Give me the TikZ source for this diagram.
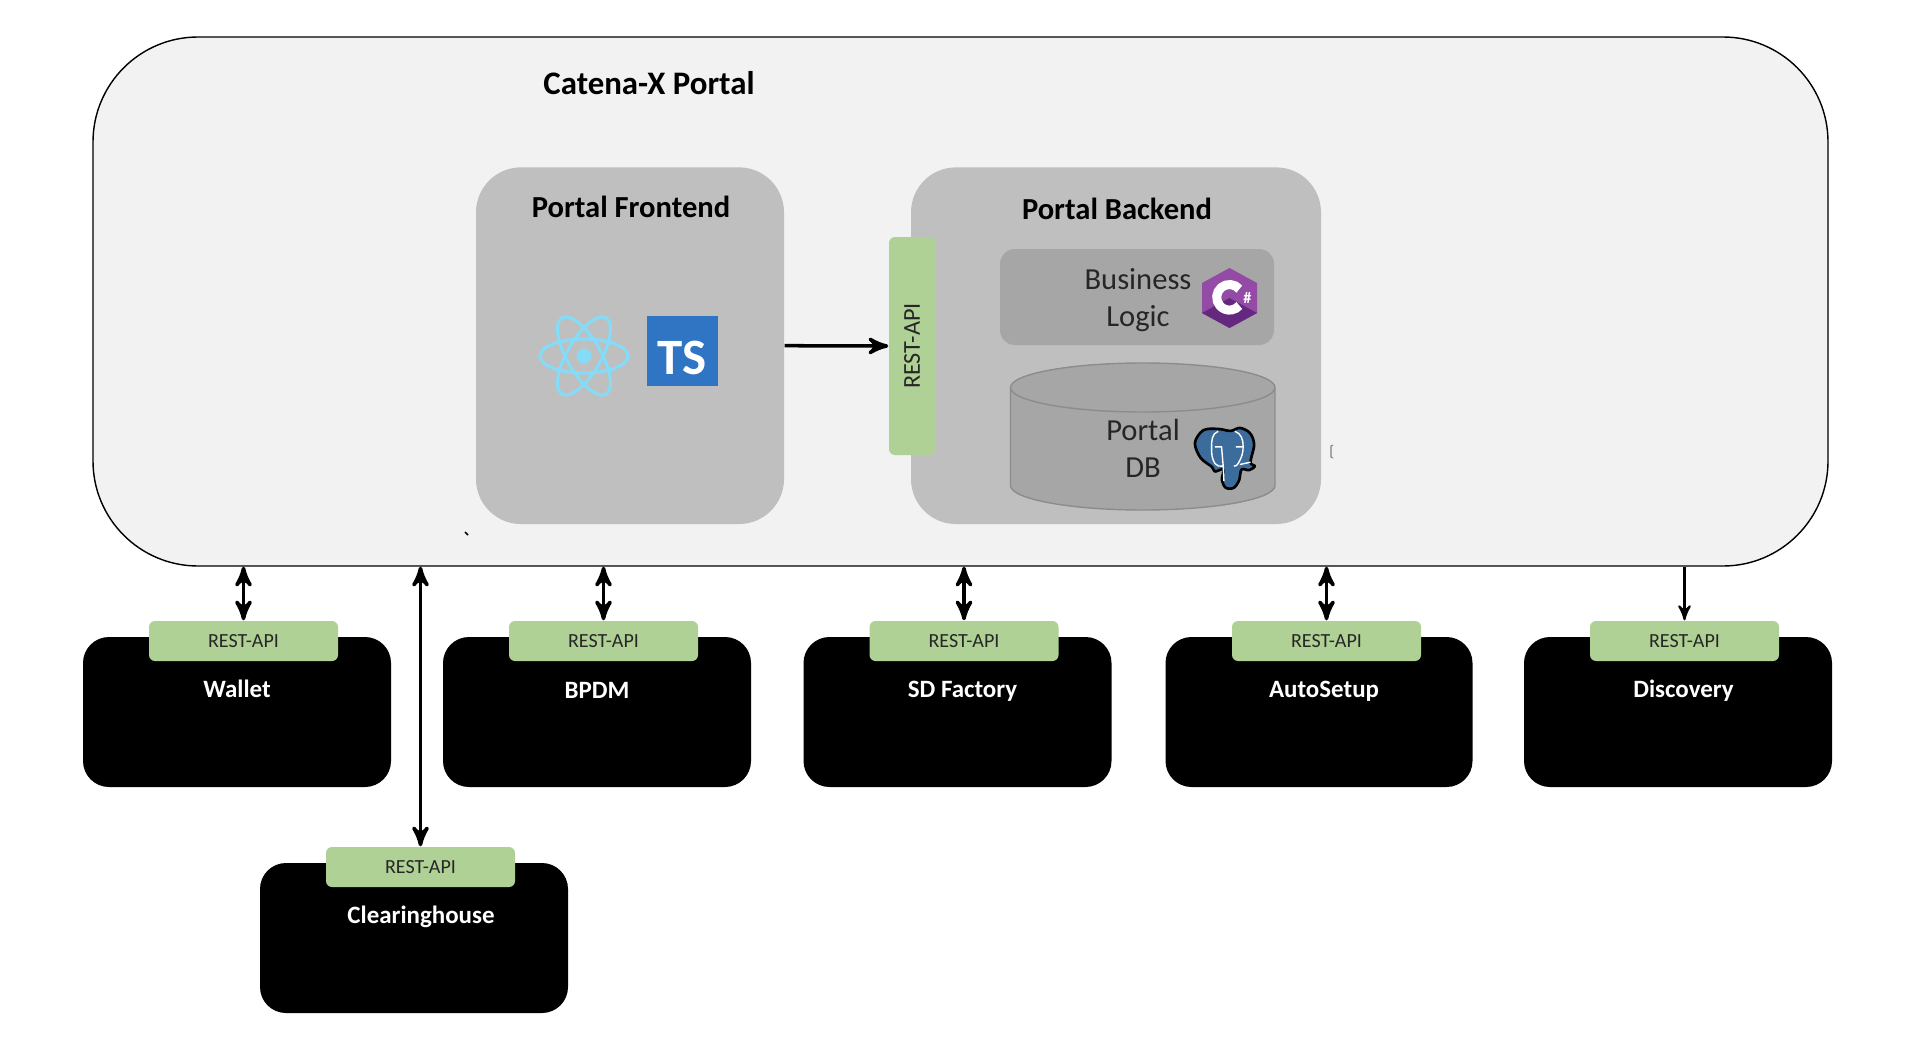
\documentclass[tikz,border=0pt]{standalone}
\usepackage{fontspec}
\setmainfont{Carlito}
\usetikzlibrary{positioning}
\usetikzlibrary{arrows}
\tikzset{>=stealth'}
\tikzset{conn/.style={line width=1pt}}
\tikzset{big/.style={font=\fontsize{8.7}{11}\selectfont\bfseries}}
\tikzset{mid/.style={font=\fontsize{8.7}{10.5}\selectfont, text=black!85, align=center}}
\tikzset{small/.style={font=\fontsize{7.1}{9}\selectfont\bfseries, text=white}}
\tikzset{group/.style={rectangle, rounded corners=4.5mm, fill=gray75, minimum height=35.67mm, inner sep=0pt}}
\tikzset{extbox/.style={rectangle, rounded corners=2.6mm, fill=black, minimum width=30.8mm, minimum height=15mm, inner sep=0pt}}
\tikzset{api/.style={rectangle, rounded corners=0.6mm, fill=apigreen, minimum width=18.9mm, minimum height=4mm, inner sep=0pt, font=\fontsize{5.7}{7}\selectfont, text=black!85}}
\definecolor{gray75}{HTML}{BFBFBF}
\definecolor{gray65}{HTML}{A6A6A6}
\definecolor{apigreen}{HTML}{B0D195}
\definecolor{reactblue}{HTML}{84DCF9}
\definecolor{tsblue}{HTML}{3075C4}
\definecolor{csharp}{HTML}{944BA6}
\definecolor{csharpdark}{HTML}{64297F}
\definecolor{pgblue}{HTML}{3B6C9B}
\begin{document}
\begin{tikzpicture}[on grid]
        \useasboundingbox (0,0) rectangle (19.14,10.44);

        \node[rectangle, rounded corners=10.5mm, draw=black, line width=0.4pt, fill=black!5, minimum width=173.5mm, minimum height=52.9mm, inner sep=0pt] (portal) at (9.605, 7.425) {};
        \node[big, font=\fontsize{9.35}{11}\selectfont\bfseries] (portaltitle) at (6.49, 9.61) {Catena-X Portal};

        \node[group, minimum width=30.8mm] (frontend) at (6.30, 6.983) {};
        \node[group, minimum width=41mm] (backend) at (11.16, 6.983) {};
        \node[big] (frontendtitle) at (6.31, 8.37) {Portal Frontend};
        \node[big] (backendtitle) at (11.17, 8.35) {Portal Backend};

        \node[api, rotate=90, minimum width=21.8mm, minimum height=4.6mm, font=\fontsize{6.9}{8}\selectfont] (backendapi) at (9.12, 6.98) {REST-API};
        \draw[->, conn] (frontend.east) -- (backendapi.north);

        \node[rectangle, rounded corners=1.5mm, fill=gray65, minimum width=27.4mm, minimum height=9.6mm, inner sep=0pt] (logic) at (11.37, 7.47) {};
        \node[mid] (logiclabel) at (11.38, 7.44) {Business\\Logic};

        % database
        \draw[draw=gray!90, line width=0.4pt, fill=gray65] (10.105, 6.565) -- (10.105, 5.585) arc[start angle=180, end angle=360, x radius=1.3225, y radius=0.245] -- (12.75, 6.565);
        \draw[draw=gray!90, line width=0.4pt, fill=gray65] (11.4275, 6.565) ellipse [x radius=1.3225, y radius=0.245];
        \node[mid] (dblabel) at (11.43, 5.955) {Portal\\DB};

        % react logo
        \foreach \a in {0,60,120} {
            \draw[reactblue, line width=0.9pt, rotate around={\a:(5.84,6.88)}] (5.84,6.88) ellipse [x radius=0.44, y radius=0.17];
        }
        \fill[reactblue] (5.84,6.88) circle (0.075);

        \node[rectangle, fill=tsblue, minimum width=7.1mm, minimum height=7mm, inner sep=0pt, text=white, font=\fontsize{14.5}{15}\selectfont\bfseries] (tslogo) at (6.825, 6.93) {\smash{\raisebox{-2.35mm}{TS}}};

        % c sharp logo
        \fill[csharp] (12.295,7.76) -- (12.57,7.61) -- (12.57,7.31) -- (12.295,7.16) -- (12.02,7.31) -- (12.02,7.61) -- cycle;
        \fill[csharpdark] (12.295,7.46) -- (12.57,7.31) -- (12.295,7.16) -- (12.02,7.31) -- cycle;
        \draw[white, line width=0.09cm] (12.295,7.467) ++(40:0.128) arc[start angle=40, end angle=320, radius=0.128];
        \node[text=white, font=\fontsize{4.6}{5}\selectfont\bfseries, inner sep=0pt] (sharpsign) at (12.473,7.465) {\#};

        % postgres logo
        \begin{scope}[shift={(11.6,8.04)}, x=0.00333cm, y=-0.00333cm]
            \draw[black, line width=0.75pt, fill=pgblue, line join=round] plot[smooth cycle, tension=0.55] coordinates {(105,610) (130,572) (175,568) (212,574) (240,565) (270,580) (283,615) (272,668) (285,680) (268,692) (245,690) (238,722) (222,745) (198,745) (186,722) (190,690) (165,696) (156,682) (122,655)};
            \draw[white, line width=0.4pt] (175,575) to[out=200, in=90] (155,625) to[out=270, in=120] (165,672) to[out=300, in=180] (190,680);
            \draw[white, line width=0.4pt] (225,575) to[out=-20, in=90] (250,620) to[out=270, in=60] (235,672) to[out=240, in=0] (222,680);
            \draw[white, line width=0.4pt] (190,680) -- (192,725) (272,668) -- (240,675) (165,622) -- (185,622) -- (190,680) (228,622) -- (248,622);
        \end{scope}

        % stray marks
        \draw[black, line width=0.5pt] (4.65,5.12) -- (4.68,5.09);
        \draw[gray, line width=0.3pt] (13.33,5.99) -- (13.31,5.98) -- (13.31,5.87) -- (13.33,5.86);

        % external systems
        \node[extbox] (wallet) at (2.37, 3.32) {};
        \node[api, above right=0.71 and 0.065 of wallet] (walletapi) {REST-API};
        \node[small, above=0.23 of wallet] (walletlabel) {Wallet};

        \node[extbox] (bpdm) at (5.97, 3.32) {};
        \node[api, above right=0.71 and 0.065 of bpdm] (bpdmapi) {REST-API};
        \node[small, above right=0.22 and 0.00 of bpdm] (bpdmlabel) {BPDM};

        \node[extbox] (sdfactory) at (9.575, 3.32) {};
        \node[api, above right=0.71 and 0.065 of sdfactory] (sdfactoryapi) {REST-API};
        \node[small, above right=0.21 and 0.05 of sdfactory] (sdfactorylabel) {SD Factory};

        \node[extbox, minimum width=30.7mm] (autosetup) at (13.19, 3.32) {};
        \node[api, above right=0.71 and 0.075 of autosetup] (autosetupapi) {REST-API};
        \node[small, above right=0.21 and 0.05 of autosetup] (autosetuplabel) {AutoSetup};

        \node[extbox] (discovery) at (16.78, 3.32) {};
        \node[api, above right=0.71 and 0.065 of discovery] (discoveryapi) {REST-API};
        \node[small, above right=0.21 and 0.055 of discovery] (discoverylabel) {Discovery};

        \node[extbox] (clearinghouse) at (4.14, 1.06) {};
        \node[api, above right=0.71 and 0.065 of clearinghouse] (clearinghouseapi) {REST-API};
        \node[small, above right=0.21 and 0.07 of clearinghouse] (clearinghouselabel) {Clearinghouse};

        \draw[<->, conn] (walletapi.north) -- (walletapi.north |- portal.south);
        \draw[<->, conn] (bpdmapi.north) -- (bpdmapi.north |- portal.south);
        \draw[<->, conn] (sdfactoryapi.north) -- (sdfactoryapi.north |- portal.south);
        \draw[<->, conn] (autosetupapi.north) -- (autosetupapi.north |- portal.south);
        \draw[<->, conn] (clearinghouseapi.north) -- (clearinghouseapi.north |- portal.south);
        \draw[->, line width=0.6pt] (discoveryapi.north |- portal.south) -- (discoveryapi.north);
    \end{tikzpicture}
\end{document}
